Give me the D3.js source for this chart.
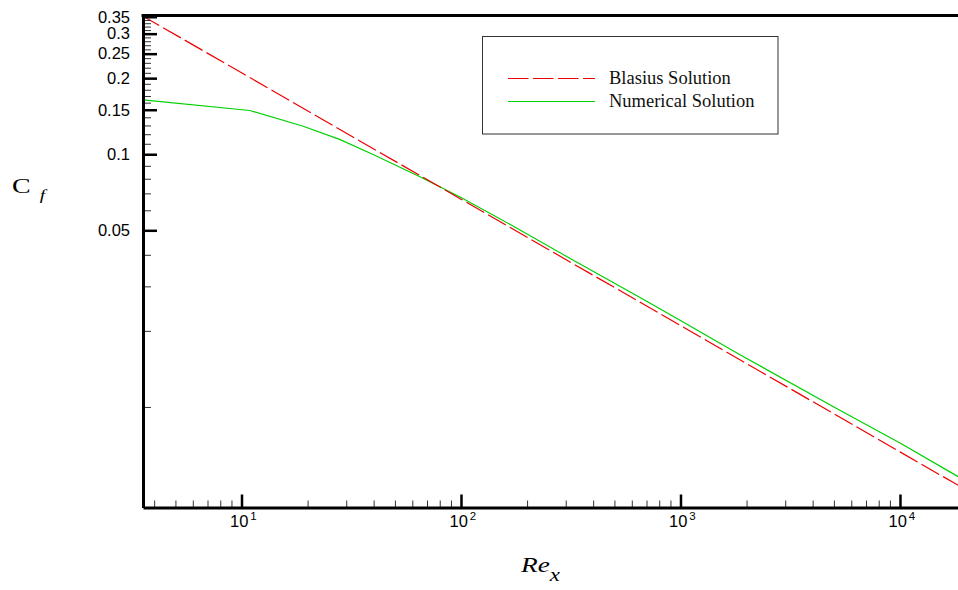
<!DOCTYPE html>
<html><head><meta charset="utf-8">
<script src="https://cdn.jsdelivr.net/npm/d3@7/dist/d3.min.js"></script>
<style>html,body{margin:0;padding:0;background:#fff;}svg{display:block;}</style>
</head><body>
<svg id="chart" width="958" height="590"></svg>
<script>
// ---- data ----
const blasiusRe = [3.5, 10, 100, 1000, 10000, 20000];
const blasiusCf = [0.355, 0.21, 0.0664, 0.021, 0.00664, 0.0047];
const numericalRe = [3.56, 10.9, 19.1, 28, 40, 65, 100, 167, 300, 654, 1000, 1866, 5000, 10000, 18400];
const numericalCf = [0.164, 0.149, 0.129, 0.1145, 0.0995, 0.0815, 0.0674, 0.0528, 0.0396, 0.0271, 0.0220, 0.0161, 0.0100, 0.0072, 0.0053];
const seriesNames = ["Blasius Solution", "Numerical Solution"];
const xMajorTicks = [10, 100, 1000, 10000];
const xMajorExp = ["1", "2", "3", "4"];
const xMinorTicks = [4,5,6,7,8,9, 20,30,40,50,60,70,80,90, 200,300,400,500,600,700,800,900, 2000,3000,4000,5000,6000,7000,8000,9000];
const yMajorTicks = [0.05, 0.1, 0.15, 0.2, 0.25, 0.3, 0.35];
const yMajorLabels = ["0.05", "0.1", "0.15", "0.2", "0.25", "0.3", "0.35"];
const yMinorTicks = [0.01,0.02,0.03,0.04,0.06,0.07,0.08,0.09,0.11,0.12,0.13,0.14,0.16,0.17,0.18,0.19,0.21,0.22,0.23,0.24,0.26,0.27,0.28,0.29,0.31,0.32,0.33,0.34];

const svg = d3.select("#chart");
const L = 143, R = 958, T = 15.5, B = 507.5;
const x = d3.scaleLog().domain([3.558, 18380]).range([L, R]);
const y = d3.scaleLog().domain([0.004, 0.354]).range([B, T]);
const sansFont = "'Liberation Sans', Arial, sans-serif";
const serifFont = "'Liberation Serif', 'Times New Roman', serif";

svg.append("defs").append("clipPath").attr("id","clip")
  .append("rect").attr("x", L).attr("y", T).attr("width", R - L).attr("height", B - T);

// curves
const line = d3.line().x(d => x(d[0])).y(d => y(d[1]));
const gCurves = svg.append("g").attr("clip-path", "url(#clip)");
gCurves.append("path")
  .datum(numericalRe.map((r, i) => [r, numericalCf[i]]))
  .attr("d", line).attr("fill", "none").attr("stroke", "#00d000").attr("stroke-width", 1.2);
gCurves.append("path")
  .datum(blasiusRe.map((r, i) => [r, blasiusCf[i]]))
  .attr("d", line).attr("fill", "none").attr("stroke", "#ee0000").attr("stroke-width", 1.2)
  .attr("stroke-dasharray", "20.5,4.5");

// x axis minor ticks
svg.append("g").attr("transform", `translate(0,${B})`)
  .call(d3.axisBottom(x).tickValues(xMinorTicks).tickSize(-7).tickSizeOuter(0).tickFormat(""))
  .call(g => g.select(".domain").remove())
  .call(g => g.selectAll("line").attr("stroke", "#333").attr("stroke-width", 1));
// x axis major ticks
const gx = svg.append("g").attr("transform", `translate(0,${B})`)
  .call(d3.axisBottom(x).tickValues(xMajorTicks).tickSize(-13).tickSizeOuter(0).tickFormat(""))
  .call(g => g.select(".domain").attr("stroke", "#000").attr("stroke-width", 3))
  .call(g => g.selectAll("line").attr("stroke", "#000").attr("stroke-width", 2.5));
gx.selectAll(".tick").each(function(d, i) {
  const t = d3.select(this).append("text")
    .attr("x", -12).attr("y", 19.5).attr("fill", "#000")
    .attr("font-family", sansFont).attr("font-size", 16.5)
    .attr("text-anchor", "start");
  t.append("tspan").text("10");
  t.append("tspan").attr("font-size", 11.5).attr("dy", -7).attr("dx", 2).text(xMajorExp[i]);
});

// y axis minor ticks
svg.append("g").attr("transform", `translate(${L},0)`)
  .call(d3.axisLeft(y).tickValues(yMinorTicks).tickSize(-8).tickSizeOuter(0).tickFormat(""))
  .call(g => g.select(".domain").remove())
  .call(g => g.selectAll("line").attr("stroke", "#333").attr("stroke-width", 1));
// y axis major ticks
svg.append("g").attr("transform", `translate(${L},0)`)
  .call(d3.axisLeft(y).tickValues(yMajorTicks).tickSize(-14).tickSizeOuter(0).tickPadding(13)
    .tickFormat((d, i) => yMajorLabels[i]))
  .call(g => g.select(".domain").attr("stroke", "#000").attr("stroke-width", 3))
  .call(g => g.selectAll("line").attr("stroke", "#000").attr("stroke-width", 2.5))
  .call(g => g.selectAll("text").attr("fill", "#000")
    .attr("font-family", sansFont).attr("font-size", 16.5));

// top border
svg.append("line").attr("x1", L - 1.5).attr("x2", R).attr("y1", T).attr("y2", T)
  .attr("stroke", "#000").attr("stroke-width", 3);

// axis titles
const cf = svg.append("text").attr("transform", "translate(12,193) scale(1.3,1)")
  .attr("font-family", serifFont).attr("font-size", 21.5).attr("fill", "#000");
cf.append("tspan").text("C");
cf.append("tspan").attr("dx", 7).attr("dy", 7).attr("font-size", 15).attr("font-style", "italic").text("f");

const rex = svg.append("text").attr("transform", "translate(521,572) scale(1.27,1)")
  .attr("font-family", serifFont).attr("font-size", 21.5)
  .attr("font-style", "italic").attr("fill", "#000");
rex.append("tspan").text("Re");
rex.append("tspan").attr("dy", 9).attr("font-size", 18).text("x");

// legend
const lg = svg.append("g");
lg.append("rect").attr("x", 482.5).attr("y", 36.5).attr("width", 295.5).attr("height", 97.5)
  .attr("fill", "#fff").attr("stroke", "#333").attr("stroke-width", 1);
const legendStyles = [
  {color: "#ee0000", dash: "20.5,4.5", yy: 78.5},
  {color: "#00d000", dash: null, yy: 101.5}
];
seriesNames.forEach((name, i) => {
  const s = legendStyles[i];
  lg.append("line").attr("x1", 508).attr("x2", 595).attr("y1", s.yy).attr("y2", s.yy)
    .attr("stroke", s.color).attr("stroke-width", 1.2).attr("stroke-dasharray", s.dash);
  lg.append("text").attr("x", 609).attr("y", s.yy + 5)
    .attr("font-family", serifFont).attr("font-size", 18.5)
    .attr("fill", "#111").text(name);
});
</script>
</body></html>
